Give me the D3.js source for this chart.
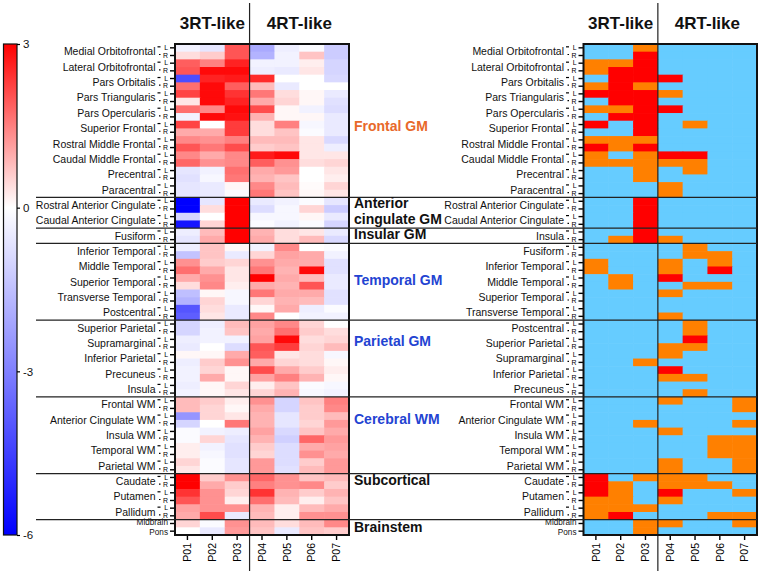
<!DOCTYPE html>
<html><head><meta charset="utf-8">
<script src="https://cdn.jsdelivr.net/npm/d3@7/dist/d3.min.js"></script>
<style>
body{margin:0;background:#fff;}
svg{display:block;font-family:"Liberation Sans",Arial,Helvetica,sans-serif;}
</style></head>
<body><svg id="chart" width="760" height="573"></svg>
<script>
// ---------------- DATA ----------------
const patients = ["P01","P02","P03","P04","P05","P06","P07"];
const subtypes = ["3RT-like","4RT-like"];
const subtypeSizes = [3,4];

const leftStructures = ["Medial Orbitofrontal","Lateral Orbitofrontal","Pars Orbitalis","Pars Triangularis","Pars Opercularis","Superior Frontal","Rostral Middle Frontal","Caudal Middle Frontal","Precentral","Paracentral","Rostral Anterior Cingulate","Caudal Anterior Cingulate","Fusiform","Inferior Temporal","Middle Temporal","Superior Temporal","Transverse Temporal","Postcentral","Superior Parietal","Supramarginal","Inferior Parietal","Precuneus","Insula","Frontal WM","Anterior Cingulate WM","Insula WM","Temporal WM","Parietal WM","Caudate","Putamen","Pallidum"];
const rightStructures = ["Medial Orbitofrontal","Lateral Orbitofrontal","Pars Orbitalis","Pars Triangularis","Pars Opercularis","Superior Frontal","Rostral Middle Frontal","Caudal Middle Frontal","Precentral","Paracentral","Rostral Anterior Cingulate","Caudal Anterior Cingulate","Insula","Fusiform","Inferior Temporal","Middle Temporal","Superior Temporal","Transverse Temporal","Postcentral","Superior Parietal","Supramarginal","Inferior Parietal","Precuneus","Frontal WM","Anterior Cingulate WM","Insula WM","Temporal WM","Parietal WM","Caudate","Putamen","Pallidum"];
const singleStructures = ["Midbrain","Pons"];
const hemis = ["L","R"];

// group name, first row, last row (exclusive), colour, label anchor row
const groupNames  = [["Frontal GM"],["Anterior","cingulate GM"],["Insular GM"],["Temporal GM"],["Parietal GM"],["Cerebral WM"],["Subcortical"],["Brainstem"]];
const groupStart  = [0,20,24,26,36,46,56,62];
const groupEnd    = [20,24,26,36,46,56,62,64];
const groupColors = ["#E8692A","#111111","#111111","#2343D2","#2343D2","#2343D2","#111111","#111111"];
const groupLabelRow = [10.8,20.9,24.9,30.9,38.9,49.0,56.9,63.1];

// z-scores (left heatmap), 64 rows x 7 patients
const zValues = [
[-0.3,-0.6,2.0,-2.0,-0.4,-0.1,-1.2],
[0.4,0.6,2.0,-1.8,-0.3,0.7,-1.2],
[1.9,1.5,2.6,-0.3,-0.3,0.2,-1.0],
[2.0,2.9,2.9,-0.4,-0.5,0.3,-1.0],
[-4.2,2.6,2.7,2.5,0.0,0.0,-0.9],
[1.7,2.9,1.9,0.8,-0.5,0.0,0.0],
[2.2,2.9,2.4,1.6,0.4,0.1,-0.5],
[0.3,2.9,2.6,1.0,0.5,0.1,-0.7],
[1.7,1.4,2.9,2.1,0.1,-0.3,-0.8],
[-0.3,2.9,2.8,0.9,0.1,0.1,-0.5],
[2.2,0.0,2.3,0.4,1.5,-0.2,-0.5],
[1.0,1.0,2.3,0.4,0.7,-0.1,-0.5],
[1.4,1.3,1.5,0.8,0.8,0.3,-0.9],
[2.0,1.6,2.1,0.6,0.7,0.3,-0.4],
[1.4,1.0,1.4,2.7,2.9,0.3,0.3],
[1.8,1.3,1.4,1.9,1.3,0.4,0.5],
[-0.6,-0.3,1.7,1.0,1.2,0.0,0.3],
[-0.7,-0.2,1.6,0.9,0.7,0.0,0.2],
[-0.6,-0.5,0.1,1.4,0.8,0.05,0.5],
[-0.6,-0.5,-0.1,1.6,0.7,0.1,0.3],
[-6.0,-0.6,3.0,-0.5,-0.3,-0.1,-0.6],
[-6.0,0.4,3.0,-0.8,-0.2,0.5,-1.2],
[-1.0,0.0,3.0,-0.2,-0.2,0.1,-0.5],
[-5.5,0.5,3.0,-0.1,-0.3,-0.1,-1.0],
[-0.4,0.8,3.0,0.9,0.4,0.3,-0.5],
[-0.6,1.0,3.0,1.0,0.4,0.8,-0.9],
[-0.4,0.7,0.1,-0.3,1.4,0.0,-0.1],
[-1.4,0.7,-0.5,0.5,1.1,1.0,-0.3],
[1.3,0.6,0.5,1.3,1.0,1.0,-0.7],
[1.7,1.0,0.3,1.6,0.9,2.9,-0.7],
[1.0,1.3,0.3,3.0,1.0,0.8,-0.5],
[0.4,1.4,0.2,1.0,0.9,2.0,-0.5],
[-1.5,0.1,-0.2,1.6,1.0,1.0,-0.7],
[-1.8,0.5,-0.2,0.5,0.9,0.8,-0.7],
[-4.0,0.4,-0.5,0.1,1.0,-0.4,-0.1],
[-3.8,0.3,-0.5,1.4,0.0,-0.3,-0.3],
[-1.0,-0.4,0.8,1.1,1.4,0.5,0.0],
[-1.0,-0.3,0.7,1.0,1.7,0.6,0.4],
[-0.4,-0.3,-0.3,1.1,2.9,0.4,0.5],
[-0.5,0.0,-0.8,2.0,2.3,0.5,0.8],
[0.1,0.1,1.0,1.9,0.3,0.4,-0.2],
[-0.4,0.6,1.3,1.0,0.5,0.4,0.1],
[-0.3,0.5,0.1,2.1,1.0,0.6,0.2],
[-0.3,1.0,0.1,1.1,1.5,0.9,0.1],
[-0.4,0.1,0.5,0.2,0.7,-0.1,-0.2],
[-0.3,0.1,0.3,0.5,0.9,-0.2,-0.3],
[0.8,0.6,0.2,1.3,-1.0,0.7,1.5],
[0.8,0.5,0.1,1.0,-1.0,0.6,1.4],
[-2.5,0.5,0.3,0.9,-0.6,0.6,0.8],
[-1.0,0.0,1.6,0.9,-0.6,0.5,1.2],
[-0.1,-0.3,-0.4,1.1,-0.9,0.7,1.0],
[-0.1,0.5,-0.6,0.9,-1.1,1.8,1.2],
[0.2,-0.3,-0.7,0.6,-0.8,1.0,1.1],
[0.2,-0.2,-0.7,0.5,-0.8,1.3,1.0],
[0.5,-0.1,-0.6,1.2,-0.8,0.6,1.2],
[0.3,-0.1,-0.6,1.2,-0.7,0.8,1.2],
[3.0,0.6,1.3,1.8,1.3,0.7,0.8],
[3.0,1.0,0.6,1.5,1.3,1.4,0.6],
[2.4,1.3,0.5,2.4,0.9,0.6,0.9],
[2.0,1.3,0.2,1.7,0.8,0.2,0.7],
[1.1,1.3,1.3,0.9,0.2,0.8,1.0],
[1.0,2.1,-0.5,0.8,0.2,1.3,1.3],
[0.5,-0.1,1.3,0.8,0.4,0.8,1.4],
[0.0,-0.5,1.2,0.7,-0.5,0.7,0.6]
];

// categorical (right heatmap): 0 = none, 1 = orange, 2 = red
const categories = [0,1,2];
const catColors = ["#66CCFF","#FF8000","#FF0000"];
const catValues = [
[0,0,1,0,0,0,0],[0,0,2,0,0,0,0],[1,1,2,0,0,0,0],[1,2,2,0,0,0,0],
[0,2,2,2,0,0,0],[1,2,1,0,0,0,0],[2,2,2,1,0,0,0],[0,2,2,0,0,0,0],
[1,1,2,2,0,0,0],[0,2,2,0,0,0,0],[2,0,2,0,1,0,0],[0,0,2,0,0,0,0],
[1,1,1,0,0,0,0],[2,1,2,0,0,0,0],[1,0,1,2,2,0,0],[1,1,1,1,1,0,0],
[0,0,1,0,1,0,0],[0,0,1,0,0,0,0],[0,0,0,1,0,0,0],[0,0,0,1,0,0,0],
[0,0,2,0,0,0,0],[0,0,2,0,0,0,0],[0,0,2,0,0,0,0],[0,0,2,0,0,0,0],
[0,0,2,0,0,0,0],[0,1,2,1,0,0,0],
[0,0,0,0,1,0,0],[0,0,0,0,1,1,0],[1,0,0,1,0,1,0],[1,0,0,1,0,2,0],
[0,1,0,2,0,0,0],[0,1,0,0,1,1,0],[0,0,0,1,0,0,0],[0,0,0,0,0,0,0],
[0,0,0,0,0,0,0],[0,0,0,1,0,0,0],
[0,0,0,0,1,0,0],[0,0,0,0,1,0,0],[0,0,0,0,2,0,0],[0,0,0,1,1,0,0],
[0,0,0,1,0,0,0],[0,0,1,0,0,0,0],[0,0,0,2,0,0,0],[0,0,0,1,1,0,0],
[0,0,0,0,0,0,0],[0,0,0,0,1,0,0],
[0,0,0,1,0,0,1],[0,0,0,0,0,0,1],[0,0,0,0,0,0,0],[0,0,1,0,0,0,1],
[0,0,0,1,0,0,0],[0,0,0,0,0,1,1],[0,0,0,0,0,1,1],[0,0,0,0,0,1,1],
[0,0,0,1,0,0,1],[0,0,0,1,0,0,1],
[2,0,1,1,1,0,0],[2,1,0,1,1,1,0],[2,1,0,2,0,0,1],[1,1,0,1,0,0,0],
[1,1,1,0,0,0,0],[1,2,0,0,0,1,1],
[0,0,1,1,0,0,1],[0,0,1,0,0,0,0]
];
const colorbarTicks = [3,0,-3,-6];

// ---------------- LAYOUT ----------------
const svg = d3.select("#chart");
const Y0 = 44, Y1 = 535;
const panels = [
  {x0:175, x1:349, structures:leftStructures, kind:"z"},
  {x0:583.5, x1:757, structures:rightStructures, kind:"cat"}
];
const rowIds = d3.range(zValues.length);
const yScale = d3.scaleBand().domain(rowIds).range([Y0, Y1]).paddingInner(0).paddingOuter(0);
const zColor = d3.scaleLinear().domain([-6,0,3]).range(["#0000ff","#ffffff","#ff0000"]).clamp(true);
const catColor = d3.scaleOrdinal().domain(categories).range(catColors);

function rowLabel(i){
  const nPaired = leftStructures.length*2;
  return i < nPaired ? hemis[i%2] : "";
}

const font = '"Liberation Sans",Arial,Helvetica,sans-serif';

panels.forEach(p => {
  const xScale = d3.scaleBand().domain(patients).range([p.x0, p.x1]);
  const g = svg.append("g");
  const cells = [];
  rowIds.forEach(r => patients.forEach((pt,c) => {
    cells.push({r, pt, v: p.kind==="z" ? zValues[r][c] : catValues[r][c]});
  }));
  g.selectAll("rect.cell").data(cells).enter().append("rect")
    .attr("class","cell")
    .attr("x", d => xScale(d.pt))
    .attr("y", d => yScale(d.r))
    .attr("width", xScale.bandwidth()+0.6)
    .attr("height", yScale.bandwidth()+0.6)
    .attr("fill", d => p.kind==="z" ? zColor(d.v) : catColor(d.v));

  // L/R axis
  const yAx = d3.axisLeft(yScale).tickSize(5).tickPadding(2)
    .tickFormat(i => rowLabel(i));
  const ga = g.append("g").attr("transform",`translate(${p.x0},0)`).call(yAx);
  ga.select(".domain").remove();
  ga.selectAll(".tick line").attr("stroke","#000").attr("stroke-width",1.4);
  ga.selectAll(".tick text").attr("font-size",6.9).attr("font-family",font).attr("fill","#000");

  // small dashes before L / R
  g.selectAll("line.dash").data(rowIds.filter(i => rowLabel(i)!=="")).enter().append("line")
    .attr("x1", d => p.x0 - (d%2===0 ? 17.5 : 16)).attr("x2", p.x0 - 14.5)
    .attr("y1", d => yScale(d)+yScale.bandwidth()/2 - 1).attr("y2", d => yScale(d)+yScale.bandwidth()/2 - 1)
    .attr("stroke","#000").attr("stroke-width",1.2);

  // structure names
  g.selectAll("text.struct").data(p.structures).enter().append("text")
    .attr("x", p.x0 - 19.5)
    .attr("y", (d,i) => yScale(i*2) + yScale.bandwidth() + 1)
    .attr("text-anchor","end").attr("dominant-baseline","middle")
    .attr("font-size",10.5).attr("fill","#111").text(d => d);
  // single structures
  const base = p.structures.length*2;
  g.selectAll("text.single").data(singleStructures).enter().append("text")
    .attr("x", p.x0 - 7)
    .attr("y", (d,i) => yScale(base+i) + yScale.bandwidth()/2 + (i===0 ? -0.8 : 1.3))
    .attr("text-anchor","end").attr("dominant-baseline","middle")
    .attr("font-size",8.2).attr("fill","#111").text(d => d);

  // bottom axis
  const xAx = d3.axisBottom(xScale).tickSize(5).tickPadding(3);
  const gx = g.append("g").attr("transform",`translate(0,${Y1})`).call(xAx);
  gx.select(".domain").remove();
  gx.selectAll(".tick line").attr("stroke","#000").attr("stroke-width",1.4);
  gx.selectAll(".tick text").attr("font-size",10.5).attr("font-family",font).attr("fill","#000")
    .attr("transform","rotate(-90)").attr("text-anchor","end")
    .attr("x",-8).attr("y",0).attr("dy","0.35em");

  // subtype headers and divider
  const xDiv = xScale(patients[subtypeSizes[0]]);
  svg.append("line").attr("x1",xDiv).attr("x2",xDiv).attr("y1",3).attr("y2",571)
    .attr("stroke","#222").attr("stroke-width",1.2);
  let start = 0;
  subtypes.forEach((s,k) => {
    const a = xScale(patients[start]);
    const b = xScale(patients[start+subtypeSizes[k]-1]) + xScale.bandwidth();
    svg.append("text").attr("x",(a+b)/2).attr("y",29).attr("text-anchor","middle")
      .attr("font-size",17).attr("font-weight","bold").attr("fill","#111").text(s);
    start += subtypeSizes[k];
  });

  // border
  svg.append("rect").attr("x",p.x0).attr("y",Y0).attr("width",p.x1-p.x0).attr("height",Y1-Y0)
    .attr("fill","none").attr("stroke","#111").attr("stroke-width",2);
});

// group separators across the whole figure
groupStart.slice(1).forEach(r => {
  const y = yScale(r);
  svg.append("line").attr("x1",36).attr("x2",757).attr("y1",y).attr("y2",y)
    .attr("stroke","#222").attr("stroke-width",1.3);
});

// group labels
groupNames.forEach((lines,k) => {
  const yc = Y0 + groupLabelRow[k]*yScale.bandwidth();
  const t = svg.append("text").attr("x",354).attr("y",yc)
    .attr("font-size",14).attr("font-weight","bold").attr("fill",groupColors[k])
    .attr("dominant-baseline","middle");
  lines.forEach((ln,j) => t.append("tspan").attr("x",354).attr("dy", j===0 ? 0 : 16).text(ln));
});

// colour bar
const defs = svg.append("defs");
const grad = defs.append("linearGradient").attr("id","cb").attr("x1",0).attr("x2",0).attr("y1",0).attr("y2",1);
const cbScale = d3.scaleLinear().domain([-6,3]).range([Y1, Y0]);
d3.range(3,-6.01,-0.5).forEach(v => {
  grad.append("stop").attr("offset", (cbScale(v)-Y0)/(Y1-Y0)).attr("stop-color", zColor(v));
});
svg.append("rect").attr("x",3.5).attr("y",Y0).attr("width",13.5).attr("height",Y1-Y0)
  .attr("fill","url(#cb)").attr("stroke","#111").attr("stroke-width",1.2);
const cbAx = d3.axisRight(cbScale).tickValues(colorbarTicks).tickSize(3).tickPadding(3).tickFormat(d3.format("d"));
const gcb = svg.append("g").attr("transform","translate(17,0)").call(cbAx);
gcb.select(".domain").remove();
gcb.selectAll(".tick line").attr("stroke","#000").attr("stroke-width",1.2);
gcb.selectAll(".tick text").attr("font-size",11.5).attr("font-family",font).attr("fill","#111")
  .text(d => d < 0 ? "-" + Math.abs(d) : d);
</script>
</body></html>
